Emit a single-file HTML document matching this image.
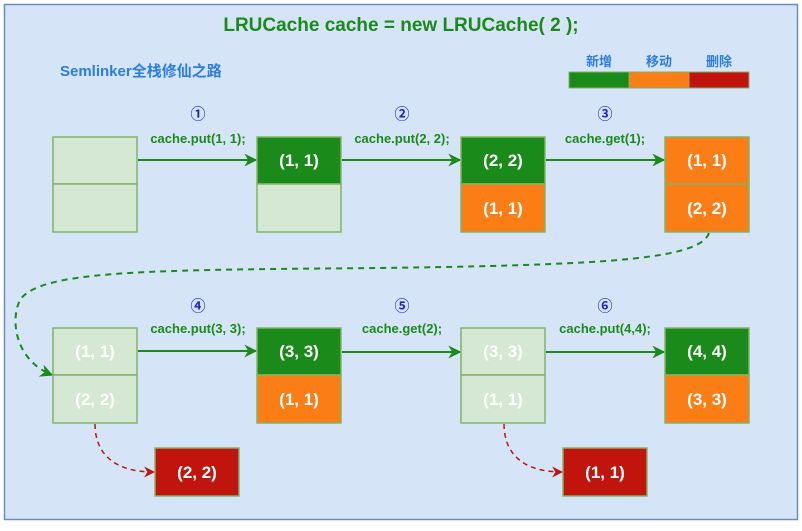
<!DOCTYPE html>
<html><head><meta charset="utf-8"><style>
body{margin:0;background:#fff;}
svg text{font-family:"Liberation Sans","Noto Sans CJK SC",sans-serif;font-weight:bold;}
</style></head><body>
<svg width="802" height="526" viewBox="0 0 802 526" xmlns="http://www.w3.org/2000/svg">
<defs>
<marker id="ag" viewBox="0 0 10 10" refX="9" refY="5" markerWidth="13" markerHeight="13" orient="auto" markerUnits="userSpaceOnUse"><path d="M0,0 L10,5 L0,10 L3,5 Z" fill="#1a8a1a"/></marker>
<marker id="ar" viewBox="0 0 10 10" refX="9" refY="5" markerWidth="11" markerHeight="11" orient="auto" markerUnits="userSpaceOnUse"><path d="M0,0 L10,5 L0,10 L3,5 Z" fill="#c0140c"/></marker>
</defs>
<rect x="4.5" y="4.5" width="793" height="515" fill="#d6e4f7" stroke="#6c8ebf" stroke-width="1.5"/>
<text x="401" y="31" text-anchor="middle" font-size="19" fill="#1a8a1a">LRUCache cache = new LRUCache( 2 );</text>
<text x="60" y="76" font-size="15" fill="#2a7de1">Semlinker全栈修仙之路</text>
<g font-size="13" fill="#2a7de1" text-anchor="middle"><text x="599" y="66">新增</text><text x="659" y="66">移动</text><text x="719" y="66">删除</text></g>
<rect x="569" y="72" width="60" height="16" fill="#1a8a1a" stroke="#82b366"/>
<rect x="629" y="72" width="60" height="16" fill="#fa7d15" stroke="#82b366"/>
<rect x="689" y="72" width="60" height="16" fill="#c0140c" stroke="#82b366"/>
<g font-size="15" fill="#2222cc" text-anchor="middle" font-weight="normal">
<text x="198" y="119">①</text><text x="402" y="119">②</text><text x="605" y="119">③</text>
<text x="198" y="311">④</text><text x="402" y="311">⑤</text><text x="605" y="311">⑥</text></g>
<g font-size="13" fill="#1a8a1a" text-anchor="middle">
<text x="198" y="143">cache.put(1, 1);</text><text x="402" y="143">cache.put(2, 2);</text><text x="605" y="143">cache.get(1);</text>
<text x="198" y="333">cache.put(3, 3);</text><text x="402" y="333">cache.get(2);</text><text x="605" y="333">cache.put(4,4);</text></g>
<g stroke="#1a8a1a" stroke-width="2" fill="none" marker-end="url(#ag)">
<line x1="138" y1="160" x2="256" y2="160"/><line x1="342" y1="160" x2="460" y2="160"/><line x1="546" y1="160" x2="664" y2="160"/>
<line x1="138" y1="351" x2="256" y2="351"/><line x1="342" y1="352" x2="460" y2="352"/><line x1="546" y1="352" x2="664" y2="352"/>
<path d="M709,233 C700,260 600,265 380,268 C150,270 40,270 20,300 C10,320 15,360 52,375" stroke-dasharray="6,5"/>
</g>
<g stroke="#c0140c" stroke-width="1.5" fill="none" stroke-dasharray="5,4" marker-end="url(#ar)">
<path d="M95,424 C95,450 110,472 154,472"/><path d="M504,424 C504,450 519,472 562,472"/>
</g>
<g stroke="#82b366" stroke-width="1.5">
<rect x="53" y="137" width="84" height="47" fill="#d5e8d4"/><rect x="53" y="184" width="84" height="48" fill="#d5e8d4"/>
<rect x="257" y="137" width="84" height="47" fill="#1a8a1a"/><rect x="257" y="184" width="84" height="48" fill="#d5e8d4"/>
<rect x="461" y="137" width="84" height="47" fill="#1a8a1a"/><rect x="461" y="184" width="84" height="48" fill="#fa7d15"/>
<rect x="665" y="137" width="84" height="47" fill="#fa7d15"/><rect x="665" y="184" width="84" height="48" fill="#fa7d15"/>
<rect x="53" y="328" width="84" height="47" fill="#d5e8d4"/><rect x="53" y="375" width="84" height="48" fill="#d5e8d4"/>
<rect x="257" y="328" width="84" height="47" fill="#1a8a1a"/><rect x="257" y="375" width="84" height="48" fill="#fa7d15"/>
<rect x="461" y="328" width="84" height="47" fill="#d5e8d4"/><rect x="461" y="375" width="84" height="48" fill="#d5e8d4"/>
<rect x="665" y="328" width="84" height="47" fill="#1a8a1a"/><rect x="665" y="375" width="84" height="48" fill="#fa7d15"/>
<rect x="155" y="448" width="84" height="48" fill="#c0140c"/><rect x="563" y="448" width="84" height="48" fill="#c0140c"/>
</g>
<g font-size="17" fill="#fff" text-anchor="middle">
<text x="299" y="166">(1, 1)</text><text x="503" y="166">(2, 2)</text><text x="503" y="214">(1, 1)</text>
<text x="707" y="166">(1, 1)</text><text x="707" y="214">(2, 2)</text>
<text x="95" y="357">(1, 1)</text><text x="95" y="405">(2, 2)</text>
<text x="299" y="357">(3, 3)</text><text x="299" y="405">(1, 1)</text>
<text x="503" y="357">(3, 3)</text><text x="503" y="405">(1, 1)</text>
<text x="707" y="357">(4, 4)</text><text x="707" y="405">(3, 3)</text>
<text x="197" y="478">(2, 2)</text><text x="605" y="478">(1, 1)</text>
</g>
</svg>
</body></html>
